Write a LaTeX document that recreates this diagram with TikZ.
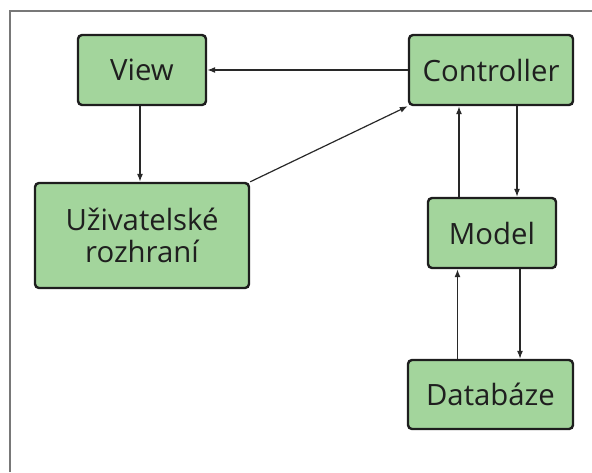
\documentclass[tikz,border=0pt]{standalone}
\usepackage{fontspec}
\setmainfont{Open Sans}
\usetikzlibrary{arrows.meta}
\definecolor{boxfill}{RGB}{163,213,156}
\definecolor{boxline}{RGB}{30,30,30}
\definecolor{frameline}{RGB}{120,120,120}
\definecolor{arrowline}{RGB}{40,40,40}
\tikzset{
  box/.style={draw=boxline, fill=boxfill, line width=1.8pt, rounded corners=3pt,
    align=center, font=\fontsize{22}{24}\selectfont, text=black!88, inner sep=0pt},
  flow/.style={draw=arrowline, line width=0.9pt, -{Latex[length=6pt,width=4.5pt]}},
}
\begin{document}
\begin{tikzpicture}[x=0.75pt, y=-0.75pt]
\useasboundingbox (0,0) rectangle (592,472);
% outer frame (left and top edges)
\draw[frameline, line width=1.2pt] (10,472) -- (10,11) -- (592,11);

\node[box, minimum width=96pt, minimum height=52.5pt] (view) at (142,70) {View};
\node[box, minimum width=123pt, minimum height=52.5pt] (ctrl) at (491,70) {Controller};
\node[box, minimum width=160.5pt, minimum height=78.75pt] (ui) at (142,235.5) {Uživatelské\\rozhraní};
\node[box, minimum width=96pt, minimum height=52.5pt] (model) at (492,233) {Model};
\node[box, minimum width=123.75pt, minimum height=51.75pt] (db) at (490.5,394.5) {Databáze};

% connectors
\draw[flow] (ctrl.west) -- (view.east);
\draw[flow] ([xshift=-1.5pt]view.south) -- ([xshift=-1.5pt]ui.north);
\draw[flow] (ui.north east) -- (ctrl.south west);
\draw[flow] ([xshift=19.5pt]ctrl.south) -- ([xshift=19.5pt]ctrl.south |- model.north);
\draw[flow] ([xshift=-24.75pt]model.north) -- ([xshift=-24.75pt]model.north |- ctrl.south);
\draw[flow] ([xshift=21pt]model.south) -- ([xshift=21pt]model.south |- db.north);
\draw[flow] ([xshift=-24.75pt]db.north) -- ([xshift=-24.75pt]db.north |- model.south);
\end{tikzpicture}
\end{document}
